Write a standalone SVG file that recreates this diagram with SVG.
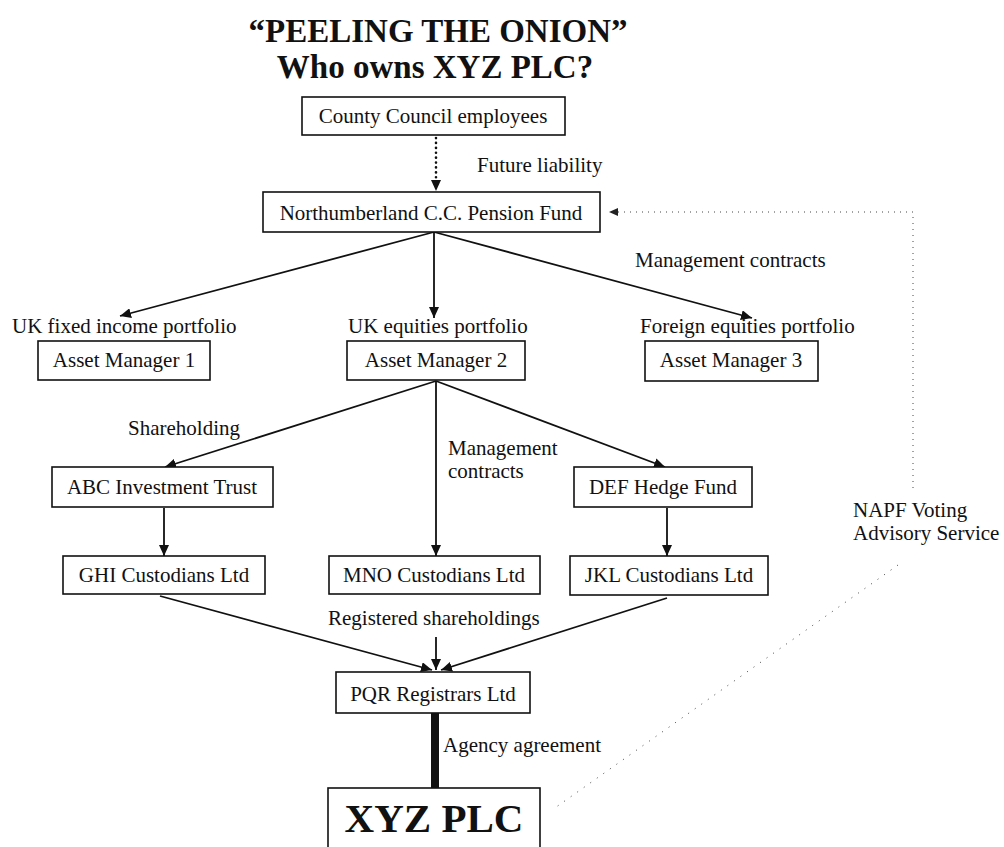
<svg xmlns="http://www.w3.org/2000/svg" width="1004" height="847" viewBox="0 0 1004 847">
<defs>
<marker id="ah" markerUnits="userSpaceOnUse" markerWidth="12" markerHeight="10" refX="11" refY="5" orient="auto">
<path d="M0,0 L11,5 L0,10 z" fill="#111"/>
</marker>
<marker id="ahs" markerUnits="userSpaceOnUse" markerWidth="10" markerHeight="8" refX="9" refY="4" orient="auto">
<path d="M0,0 L9,4 L0,8 z" fill="#222"/>
</marker>
</defs>
<style>
text{font-family:"Liberation Serif","Times New Roman",serif;fill:#111;font-size:21px}
.title{font-weight:bold;font-size:33px;text-anchor:middle}
.big{font-weight:bold;font-size:41px;text-anchor:middle}
.c{text-anchor:middle}
rect{fill:#fff;stroke:#111;stroke-width:1.6}
.ln{stroke:#111;stroke-width:1.8;fill:none}
.arr{marker-end:url(#ah)}
.dot{stroke:#111;stroke-width:2.6;stroke-linecap:round;stroke-dasharray:0.1 4.8;fill:none}
.faint{stroke:#444;stroke-width:1;stroke-dasharray:1 5;fill:none}
</style>
<rect x="0" y="0" width="1004" height="847" style="fill:#fff;stroke:none"/>
<g id="title">
<text class="title" x="438" y="42">“PEELING THE ONION”</text>
<text class="title" x="435" y="78">Who owns XYZ PLC?</text>
</g>
<g id="connectors">
<line class="dot" x1="436" y1="138" x2="436" y2="180"/>
<path d="M431,180 L441,180 L436,191 z" fill="#111"/>
<line class="ln arr" x1="434" y1="232" x2="120" y2="316"/>
<line class="ln arr" x1="434" y1="232" x2="434" y2="318"/>
<line class="ln arr" x1="434" y1="232" x2="752" y2="318"/>
<line class="ln arr" x1="436" y1="381" x2="165" y2="467"/>
<line class="ln arr" x1="436" y1="381" x2="436" y2="556"/>
<line class="ln arr" x1="436" y1="381" x2="665" y2="467"/>
<line class="ln arr" x1="164" y1="508" x2="164" y2="556"/>
<line class="ln arr" x1="667" y1="508" x2="667" y2="556"/>
<line class="ln arr" x1="160" y1="596" x2="432" y2="670"/>
<line class="ln arr" x1="667" y1="598" x2="441" y2="670"/>
<line class="ln arr" x1="436" y1="637" x2="436" y2="670"/>
<line x1="435" y1="713" x2="435" y2="788" stroke="#111" stroke-width="8"/>
<polyline class="faint" points="913,488 913,212 618,212"/>
<path d="M609,212 L618,208 L618,216 z" fill="#222"/>
<line class="faint" x1="898" y1="565" x2="552" y2="810" style="stroke-dasharray:1 7"/>
</g>
<g id="labels">
<text x="477" y="172">Future liability</text>
<text x="635" y="267">Management contracts</text>
<text x="12" y="333">UK fixed income portfolio</text>
<text x="348" y="333">UK equities portfolio</text>
<text x="640" y="333">Foreign equities portfolio</text>
<text x="128" y="435">Shareholding</text>
<text x="448" y="455">Management</text>
<text x="448" y="478">contracts</text>
<text x="328" y="625">Registered shareholdings</text>
<text x="443" y="752">Agency agreement</text>
<text x="853" y="517">NAPF Voting</text>
<text x="853" y="540">Advisory Service</text>
</g>
<g id="n-county"><rect x="302" y="97" width="263" height="38"/><text class="c" x="433" y="123">County Council employees</text></g>
<g id="n-pension"><rect x="263" y="192" width="337" height="40"/><text class="c" x="431" y="220">Northumberland C.C. Pension Fund</text></g>
<g id="n-am1"><rect x="38" y="341" width="172" height="39"/><text class="c" x="124" y="367">Asset Manager 1</text></g>
<g id="n-am2"><rect x="347" y="341" width="178" height="39"/><text class="c" x="436" y="367">Asset Manager 2</text></g>
<g id="n-am3"><rect x="645" y="341" width="173" height="40"/><text class="c" x="731" y="367">Asset Manager 3</text></g>
<g id="n-abc"><rect x="52" y="467" width="221" height="40"/><text class="c" x="162" y="494">ABC Investment Trust</text></g>
<g id="n-def"><rect x="574" y="467" width="178" height="40"/><text class="c" x="663" y="494">DEF Hedge Fund</text></g>
<g id="n-ghi"><rect x="63" y="556" width="202" height="38"/><text class="c" x="164" y="582">GHI Custodians Ltd</text></g>
<g id="n-mno"><rect x="329" y="556" width="211" height="38"/><text class="c" x="434" y="582">MNO Custodians Ltd</text></g>
<g id="n-jkl"><rect x="570" y="556" width="198" height="39"/><text class="c" x="669" y="582">JKL Custodians Ltd</text></g>
<g id="n-pqr"><rect x="336" y="672" width="194" height="41"/><text class="c" x="433" y="701">PQR Registrars Ltd</text></g>
<g id="n-xyz"><rect x="328" y="788" width="212" height="70"/><text class="big" x="434" y="832">XYZ PLC</text></g>
</svg>
